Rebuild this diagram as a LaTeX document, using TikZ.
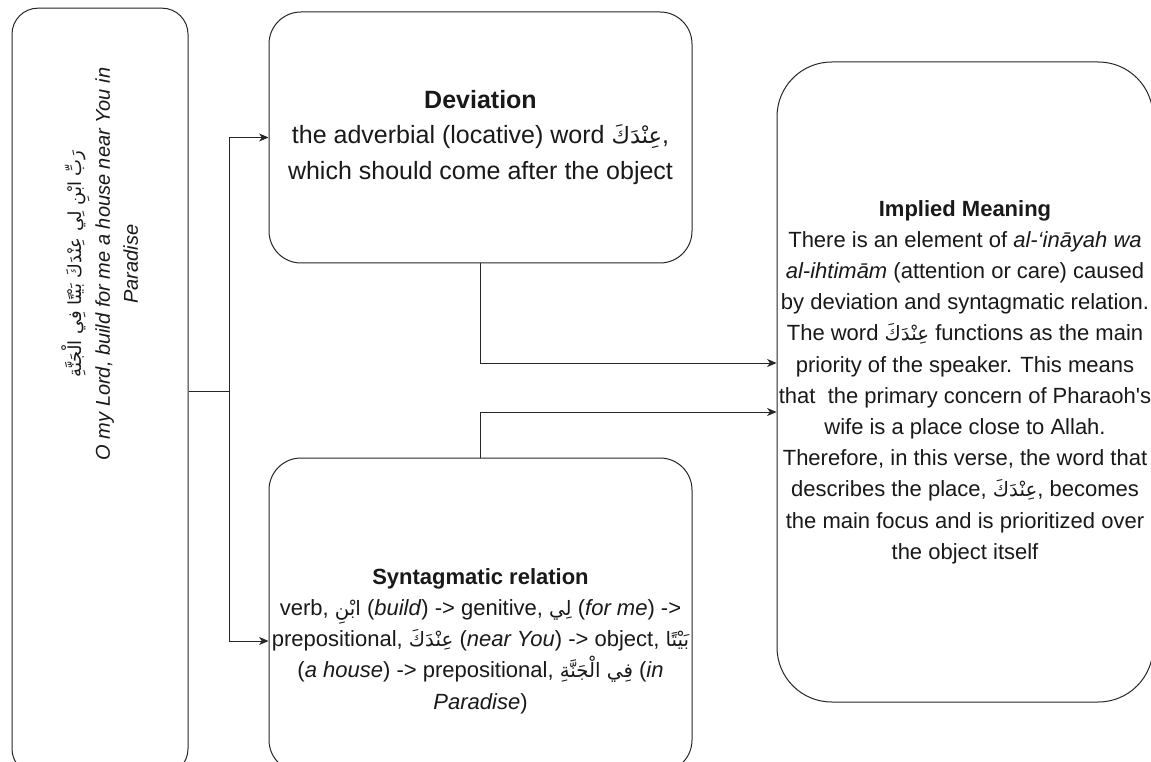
\documentclass[tikz,border=0pt]{standalone}
\usepackage{fontspec}
\setmainfont{Liberation Sans}[Ligatures=TeXOff]
\newfontfamily\arabicfont[Script=Arabic,Scale=0.9]{DejaVu Sans}
\TeXXeTstate=1
\usetikzlibrary{arrows.meta, calc}
\newcommand{\arb}[1]{{\arabicfont\beginR #1\endR}}

\tikzset{
	card/.style={draw=black!85, line width=0.75pt, rounded corners=#1, inner sep=0pt, align=center, text=black!90},
	card/.default=24pt,
	link/.style={draw=black!85, line width=0.75pt, -{Stealth[length=7pt, width=6pt, inset=2pt]}},
	bodytext/.style={align=center, text=black!90, font=\fontsize{16.5pt}{23.4pt}\selectfont}
}

\begin{document}
\begin{tikzpicture}[x=0.75pt, y=-0.75pt]
	\useasboundingbox (0,0) rectangle (1151,762);
	\fill[white] (0,0) rectangle (1151,762);
	\clip (0,0) rectangle (1151,762);
	% boxes
	\node [card=19.5pt, minimum width=132pt, minimum height=575pt] (verse) at (100,391.5) {};
	\node [card, minimum width=317.25pt, minimum height=188.25pt, font=\fontsize{18.75pt}{26.6pt}\selectfont] (deviation) at (480.5,137.5)
		{\textbf{Deviation}\\ the adverbial (locative) word \arb{عِنْدَكَ},\\ which should come after the object};
	\node [card, minimum width=317.25pt, minimum height=235.5pt] (syntax) at (480.5,615) {};
	\node [card=41pt, minimum width=282pt, minimum height=480pt, font=\fontsize{16.5pt}{23.4pt}\selectfont] (implied) at (965,382)
		{\textbf{Implied Meaning}\\ There is an element of \textit{al-‘ināyah wa}\\ \textit{al-ihtimām} (attention or care) caused\\
		by deviation and syntagmatic relation.\\ The word \arb{عِنْدَكَ} functions as the main\\ priority of the speaker. This means\\
		that\ \ the primary concern of Pharaoh's\\ wife is a place close to Allah.\\ Therefore, in this verse, the word that\\
		describes the place, \arb{عِنْدَكَ}, becomes\\ the main focus and is prioritized over\\ the object itself};
	% texts
	\node [bodytext, rotate=90, font=\fontsize{15pt}{21pt}\selectfont] (versetext) at (100,264)
		{\arb{رَبِّ ابْنِ لِي عِنْدَكَ بَيْتًا فِي الْجَنَّةِ}\\ \textit{O my Lord, build for me a house near You in}\\ \textit{Paradise}};
	\node [bodytext] (syntaxtext) at (480.5,641)
		{\textbf{Syntagmatic relation}\\ verb, \arb{ابْنِ} (\textit{build}) -> genitive, \arb{لِي} (\textit{for me}) ->\\
		prepositional, \arb{عِنْدَكَ} (\textit{near You}) -> object, \arb{بَيْتًا}\\
		(\textit{a house}) -> prepositional, \arb{فِي الْجَنَّةِ} (\textit{in}\\ \textit{Paradise})};
	% connectors
	\coordinate (fork) at ($(verse.east)+(41,0)$);
	\draw [draw=black!85, line width=0.75pt] (verse.east) -- (fork);
	\draw [link] (fork) |- (deviation.west);
	\draw [link] (fork) |- (syntax.west |- syntaxtext.center);
	\draw [link] (deviation.south) |- ($(implied.west)+(0,-19)$);
	\draw [link] (syntax.north) |- ($(implied.west)+(0,30)$);
\end{tikzpicture}
\end{document}
